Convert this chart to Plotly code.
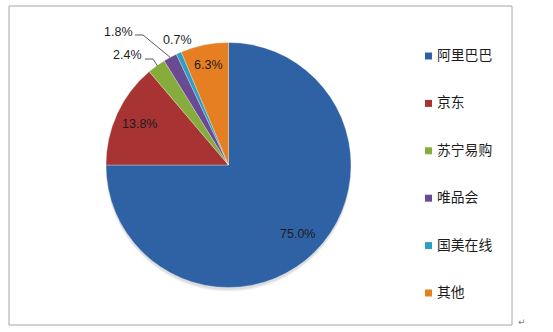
import math
import plotly.graph_objects as go

labels = ["阿里巴巴", "京东", "苏宁易购", "唯品会", "国美在线", "其他"]
values = [75.0, 13.8, 2.4, 1.8, 0.7, 6.3]
colors = ["#2E62A5", "#A83333", "#86AD3C", "#6A4A93", "#2C9FC2", "#E67E22"]

W, H = 553, 332
CX, CY, R = 228.5, 165.0, 122.5

def px(x):
    return x / W

def py(y):
    return 1 - y / H

fig = go.Figure()
fig.add_trace(go.Pie(
    labels=labels, values=values, sort=False, direction="clockwise", rotation=0,
    marker=dict(colors=colors, line=dict(color="rgba(255,255,255,0.5)", width=0.6)),
    textinfo="none", hoverinfo="label+percent", showlegend=False,
    domain=dict(x=[px(CX - R), px(CX + R)], y=[py(CY + R), py(CY - R)]),
))

total = sum(values)
annotations = []
shapes = []

# chart frame
shapes.append(dict(type="rect", xref="paper", yref="paper", x0=px(9), x1=px(512), y0=py(325), y1=py(6),
                   line=dict(color="#A6A6A6", width=1), layer="below"))
# soft shadow under the pie
for off, a in [(4, 0.06), (2.5, 0.08)]:
    shapes.append(dict(type="circle", xref="paper", yref="paper",
                       x0=px(CX - R), x1=px(CX + R), y0=py(CY + R + off), y1=py(CY - R + off),
                       fillcolor=f"rgba(0,0,0,{a})", line=dict(width=0), layer="below"))

label_font = dict(family="Liberation Sans", size=12.5, color="#1C1C1C")
inside = {0: 0.80, 1: 0.80, 5: 0.83}
outside_pos = {2: (127.5, 55.5), 3: (118.5, 32), 4: (177.5, 39.5)}
cum = 0.0
for i, v in enumerate(values):
    mid = (cum + v / 2) / total * 2 * math.pi
    cum += v
    dx, dy = math.sin(mid), -math.cos(mid)
    txt = f"{v / total * 100:.1f}%"
    if i in inside:
        f = inside[i]
        x, y = CX + f * R * dx, CY + f * R * dy
    else:
        x, y = outside_pos[i]
        ex, ey = CX + R * dx, CY + R * dy
        if i == 2:
            pts = [(ex + 1, ey), (x + 25.5, y + 3.5), (x + 17.5, y + 3.5)]
        elif i == 3:
            pts = [(ex, ey), (x + 24.5, y + 3), (x + 16.5, y + 3)]
        else:
            pts = None
        if pts:
            path = "M " + " L ".join(f"{px(a)},{py(b)}" for a, b in pts)
            shapes.append(dict(type="path", xref="paper", yref="paper", path=path,
                               line=dict(color="#595959", width=1)))
    annotations.append(dict(x=px(x), y=py(y), xref="paper", yref="paper", text=txt, showarrow=False,
                            xanchor="center", yanchor="middle", font=label_font))

# legend
for i, (lab, col) in enumerate(zip(labels, colors)):
    yc = 56 + i * 47.4
    shapes.append(dict(type="rect", xref="paper", yref="paper", x0=px(425), x1=px(432),
                       y0=py(yc + 3.5), y1=py(yc - 3.5), fillcolor=col, line=dict(width=0)))
    annotations.append(dict(x=px(435), y=py(yc - 2), xref="paper", yref="paper", text=lab, showarrow=False,
                            xanchor="left", yanchor="middle",
                            font=dict(family="Noto Sans CJK SC", size=13.8, color="#1C1C1C")))

annotations.append(dict(x=px(516), y=py(322), xref="paper", yref="paper", text="↵", showarrow=False,
                        xanchor="left", yanchor="middle", font=dict(family="DejaVu Sans", size=9, color="#808080")))

fig.update_layout(width=W, height=H, margin=dict(l=0, r=0, t=0, b=0),
                  paper_bgcolor="white", plot_bgcolor="white",
                  shapes=shapes, annotations=annotations, showlegend=False)
fig.write_html("out.html")
